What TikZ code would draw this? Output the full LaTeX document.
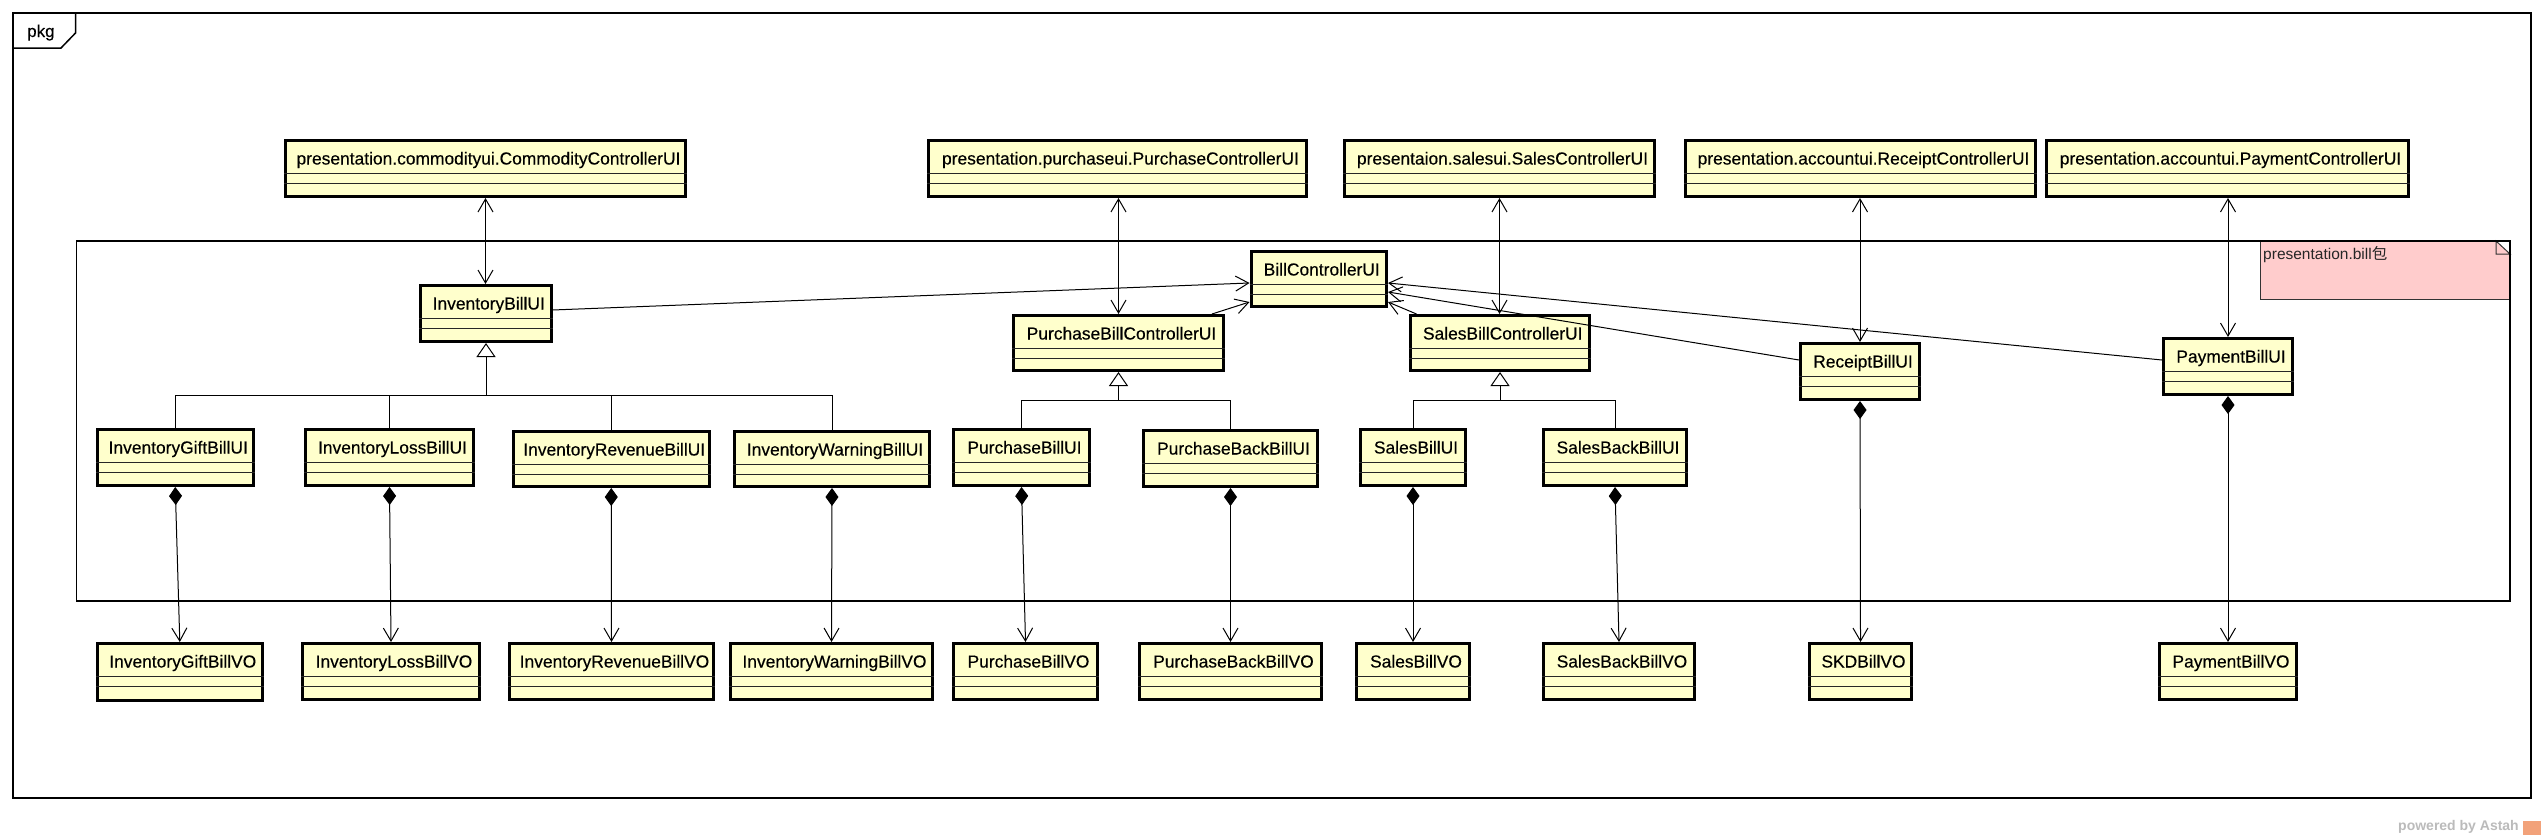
\documentclass[tikz,border=0pt]{standalone}
\usepackage{fontspec}
\setmainfont{Liberation Sans}
\newfontfamily\clsfont{Liberation Sans}[FakeBold=0.35]
\newfontfamily\cjkfont{Noto Sans CJK SC}
\usetikzlibrary{arrows.meta}
\definecolor{clsfill}{HTML}{FFFFCC}
\definecolor{notefill}{HTML}{FFCCCC}
\definecolor{astahgray}{HTML}{BBBBBB}
\definecolor{astahorange}{HTML}{F2A27A}
\tikzset{
  clsbox/.style={draw, line width=3pt, fill=clsfill, rectangle, inner sep=0pt},
  clstext/.style={anchor=base, font=\clsfont\fontsize{17.4}{20}\selectfont, inner sep=0pt},
  cmpline/.style={line width=1pt, draw=black!85},
  conn/.style={line width=1pt},
  opentip/.tip={Straight Barb[length=13pt,width=15pt,line width=1pt]},
  nav/.style={conn, -opentip},
  bidir/.style={conn, opentip-opentip},
  gen/.style={conn, -{Triangle[open, length=14pt, width=19pt, fill=white, line width=1pt]}},
  compo/.style={conn, {Diamond[length=18pt,width=13pt]}-opentip},
  frame/.style={line width=1.5pt},
}
\newcommand\umlcls[6]{%
  \node[clsbox, minimum width={#4-3}, minimum height={#5-3}] (#1) at (#2,#3) {};
  \draw[cmpline] ([yshift=-34pt]#1.north west) -- ([yshift=-34pt]#1.north east);
  \draw[cmpline] ([yshift=-44pt]#1.north west) -- ([yshift=-44pt]#1.north east);
  \node[clstext] (#1-t) at ([xshift=3pt,yshift=-25.5pt]#1.north) {#6};
}
\begin{document}
\begin{tikzpicture}[x=1pt,y=-1pt]
\useasboundingbox[fill=white] (0,0) rectangle (2542,838);
% outer frame
\draw[frame] (13,13) rectangle (2531,798);
\draw[frame] (13,48) -- (61,48) -- (75.5,33) -- (75.5,13);
\node[anchor=base west, font=\clsfont\fontsize{17}{20}\selectfont, inner sep=0pt] (pkg) at (27,37) {pkg};
% note
\fill[notefill] (2260,241) -- (2496,241) -- (2510,254) -- (2510,299) -- (2260,299) -- cycle;
\draw[line width=1pt, draw=black!80] (2496,241) -- (2496,254) -- (2510,254) -- cycle;
\draw[line width=1pt, draw=black!80] (2260,241) -- (2260,299) -- (2510,299);
\node[anchor=base west, inner sep=0pt, text=black!85, font=\fontsize{15.5}{18}\selectfont] (note) at (2263,259) {presentation.bill{\cjkfont 包}};
% inner package
\draw[frame] (76.5,241) rectangle (2510,601);
% top classes
\umlcls{cc}{485.5}{168.5}{403}{59}{presentation.commodityui.CommodityControllerUI}
\umlcls{pc}{1117.5}{168.5}{381}{59}{presentation.purchaseui.PurchaseControllerUI}
\umlcls{sc}{1499.5}{168.5}{313}{59}{presentaion.salesui.SalesControllerUI}
\umlcls{rc}{1860.5}{168.5}{353}{59}{presentation.accountui.ReceiptControllerUI}
\umlcls{pyc}{2227.5}{168.5}{365}{59}{presentation.accountui.PaymentControllerUI}
% middle
\umlcls{ibu}{485.75}{313.5}{133.5}{59}{InventoryBillUI}
\umlcls{bcu}{1318.75}{279}{138.5}{58}{BillControllerUI}
\umlcls{pbc}{1118.5}{343}{213}{58}{PurchaseBillControllerUI}
\umlcls{sbc}{1499.75}{343}{182.5}{58}{SalesBillControllerUI}
\umlcls{rbu}{1860}{371.5}{122}{59}{ReceiptBillUI}
\umlcls{pbu}{2228}{366.5}{132}{59}{PaymentBillUI}
% subclasses
\umlcls{igu}{175.25}{457.5}{158.5}{59}{InventoryGiftBillUI}
\umlcls{ilu}{389.5}{457.5}{171}{59}{InventoryLossBillUI}
\umlcls{iru}{611.25}{459}{199.5}{58}{InventoryRevenueBillUI}
\umlcls{iwu}{832}{459}{198}{58}{InventoryWarningBillUI}
\umlcls{pbui}{1021.5}{457.5}{139}{59}{PurchaseBillUI}
\umlcls{pbbu}{1230.5}{458.5}{177}{59}{PurchaseBackBillUI}
\umlcls{sbu}{1413}{457.5}{108}{59}{SalesBillUI}
\umlcls{sbbu}{1615}{457.5}{146}{59}{SalesBackBillUI}
% VOs
\umlcls{igv}{179.8}{672}{167.6}{60}{InventoryGiftBillVO}
\umlcls{ilv}{391}{671.5}{180}{59}{InventoryLossBillVO}
\umlcls{irv}{611.5}{671.5}{207}{59}{InventoryRevenueBillVO}
\umlcls{iwv}{831.5}{671.5}{205}{59}{InventoryWarningBillVO}
\umlcls{pbv}{1025.5}{671.5}{147}{59}{PurchaseBillVO}
\umlcls{pbbv}{1230.5}{671.5}{185}{59}{PurchaseBackBillVO}
\umlcls{sbv}{1413}{671.5}{116}{59}{SalesBillVO}
\umlcls{sbbv}{1619}{671.5}{154}{59}{SalesBackBillVO}
\umlcls{skd}{1860.5}{671.5}{105}{59}{SKDBillVO}
\umlcls{pyv}{2228}{671.5}{140}{59}{PaymentBillVO}
% bidirectional associations
\draw[bidir] (cc.south) -- (cc.south |- ibu.north);
\draw[bidir] (pbc.north |- pc.south) -- (pbc.north);
\draw[bidir] (sc.south) -- (sc.south |- sbc.north);
\draw[bidir] (rbu.north |- rc.south) -- (rbu.north);
\draw[bidir] (pbu.north |- pyc.south) -- (pbu.north);
% navigations to BillControllerUI
\draw[nav] ([yshift=3.5pt]ibu.east) -- ([yshift=-4pt]bcu.west);
\draw[nav] ([xshift=-13pt]pbc.north east) -- ([yshift=-23pt]bcu.west);
\draw[nav] ([xshift=8pt]sbc.north west) -- ([yshift=-23pt]bcu.east);
\draw[nav] ([yshift=11.5pt]rbu.west) -- ([yshift=-13pt]bcu.east);
\draw[nav] ([yshift=6.5pt]pbu.west) -- ([yshift=-4pt]bcu.east);
% generalizations
\coordinate (ij) at (486,395);
\coordinate (pj) at (1118.5,400);
\coordinate (sj) at (1500,400);
\draw[conn] (igu.north) |- (ij);
\draw[conn] (ilu.north) |- (ij);
\draw[conn] (iru.north) |- (ij);
\draw[conn] (iwu.north) |- (ij);
\draw[gen] (ij) -- (ij |- ibu.south);
\draw[conn] (pbui.north) |- (pj);
\draw[conn] (pbbu.north) |- (pj);
\draw[gen] (pj) -- (pj |- pbc.south);
\draw[conn] (sbu.north) |- (sj);
\draw[conn] (sbbu.north) |- (sj);
\draw[gen] (sj) -- (sj |- sbc.south);
% compositions
\draw[compo] (igu.south) -- (igv.north);
\draw[compo] (ilu.south) -- (ilv.north);
\draw[compo] (iru.south) -- (irv.north);
\draw[compo] (iwu.south) -- (iwv.north);
\draw[compo] (pbui.south) -- (pbv.north);
\draw[compo] (pbbu.south) -- (pbbv.north);
\draw[compo] (sbu.south) -- (sbv.north);
\draw[compo] (sbbu.south) -- (sbbv.north);
\draw[compo] (rbu.south) -- (skd.north);
\draw[compo] (pbu.south) -- (pyv.north);
% watermark
\node[anchor=base west, inner sep=0pt, text=astahgray, font=\bfseries\fontsize{14}{16}\selectfont] (astah) at (2398,830) {powered by Astah};
\node[fill=astahorange, inner sep=0pt, minimum width=18pt, minimum height=14pt, anchor=west] (logo) at (2523,828) {};
\end{tikzpicture}
\end{document}
